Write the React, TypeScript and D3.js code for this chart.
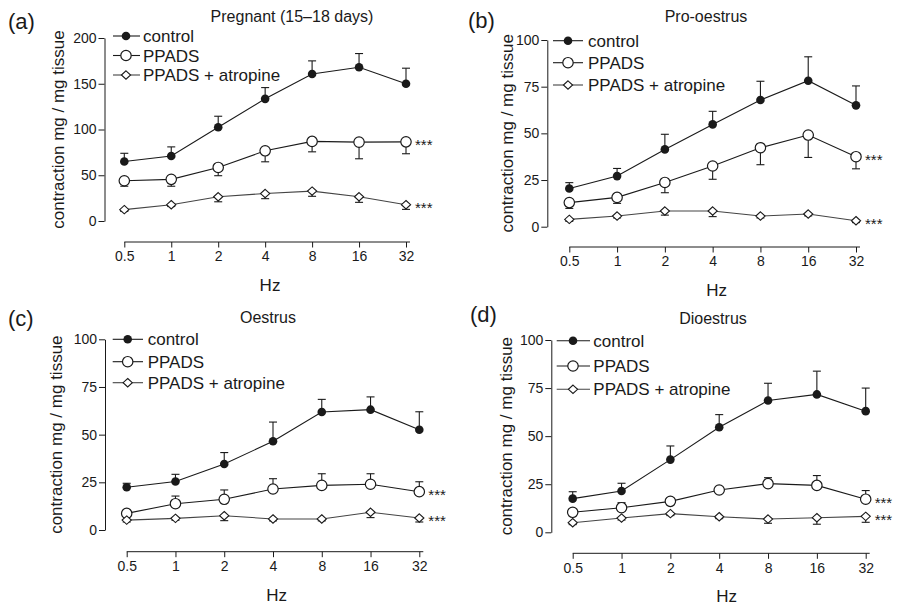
import React, { useEffect, useRef } from "react";
import * as d3 from "d3";

// stimulation frequencies (Hz) and their tick labels
const hz = [0.5, 1, 2, 4, 8, 16, 32];
const hzLabels = ["0.5", "1", "2", "4", "8", "16", "32"];
const seriesNames = ["control", "PPADS", "PPADS + atropine"];

// (a) Pregnant (15-18 days)
const pregControl = [65, 71, 102.5, 133.5, 160.7, 168, 150];
const pregControlErr = [9, 10, 12, 12.3, 14.3, 15, 17];
const pregPpads = [44, 45.5, 58.5, 76.7, 87, 86.2, 86.5];
const pregPpadsErr = [6, 7.5, 9, 12, 11.4, 18.2, 13];
const pregAtropine = [12.4, 17.8, 26.5, 30, 32.7, 26.5, 17.8];
const pregAtropineErr = [2, 2, 5.5, 5.6, 5.7, 6.1, 5.1];

// (b) Pro-oestrus
const proControl = [20.5, 27.1, 41.4, 54.8, 67.9, 78.2, 65];
const proControlErr = [3.1, 4.1, 8.1, 7, 10, 12.8, 10.4];
const proPpads = [12.9, 15.7, 23.7, 32.5, 42.3, 49.1, 37.5];
const proPpadsErr = [3.1, 3.2, 5.5, 7.1, 9.1, 12, 6.5];
const proAtropine = [3.9, 5.7, 8.4, 8.4, 5.7, 6.8, 3.2];
const proAtropineErr = [1, 1, 2.2, 3, 1, 1, 1];

// (c) Oestrus
const oesControl = [22.4, 25.4, 34.6, 46.5, 61.9, 63.1, 52.6];
const oesControlErr = [2.1, 3.8, 6, 10.1, 6.6, 6.7, 9.4];
const oesPpads = [8.7, 13.8, 16.1, 21.5, 23.4, 24, 20.1];
const oesPpadsErr = [1.5, 4, 4.9, 5.4, 6.1, 5.5, 5.2];
const oesAtropine = [5.2, 6.1, 7.5, 5.8, 5.8, 9.3, 6.3];
const oesAtropineErr = [1, 1, 2.6, 1, 1, 2.8, 2.1];

// (d) Dioestrus
const dioControl = [17.5, 21.5, 37.8, 54.6, 68.5, 71.7, 63];
const dioControlErr = [3.6, 4, 7.1, 6.6, 9, 12.1, 12];
const dioPpads = [10.4, 12.8, 16.1, 22, 25.3, 24.4, 17.2];
const dioPpadsErr = [1.5, 2.6, 1.5, 1.5, 3.1, 5.1, 4.5];
const dioAtropine = [5, 7.4, 9.7, 8.1, 6.9, 7.6, 8.3];
const dioAtropineErr = [1, 1, 1, 1, 2.2, 3.4, 3.1];

const ticks200 = [0, 50, 100, 150, 200];
const ticks100 = [0, 25, 50, 75, 100];

const FONT = "'Liberation Sans', Arial, sans-serif";
const INK = "#1a1a1a";

const panels = [
  {
    tag: "(a)", title: "Pregnant (15\u201318 days)", yMax: 200, yTicks: ticks200,
    series: [
      { v: pregControl, e: pregControlErr, dir: 1 },
      { v: pregPpads, e: pregPpadsErr, dir: -1 },
      { v: pregAtropine, e: pregAtropineErr, dir: -1 },
    ],
    yAxisX: 104.5, yTop: 38, yBot: 221, xAxisY: 242, x0: 124.3, x1: 406,
    tagX: 8, tagY: 29, titleX: 292, titleY: 22, yLabX: 58, hzX: 270,
    legY: [36, 55.5, 75], legX0: 113, legX1: 140, legM: 126, legT: 143,
  },
  {
    tag: "(b)", title: "Pro-oestrus", yMax: 100, yTicks: ticks100,
    series: [
      { v: proControl, e: proControlErr, dir: 1 },
      { v: proPpads, e: proPpadsErr, dir: -1 },
      { v: proAtropine, e: proAtropineErr, dir: -1 },
    ],
    yAxisX: 547.3, yTop: 40, yBot: 226.7, xAxisY: 247, x0: 569.3, x1: 856,
    tagX: 468, tagY: 28, titleX: 706, titleY: 22, yLabX: 507, hzX: 716.7,
    legY: [40.7, 62.7, 85], legX0: 553, legX1: 583, legM: 568, legT: 588,
  },
  {
    tag: "(c)", title: "Oestrus", yMax: 100, yTicks: ticks100,
    series: [
      { v: oesControl, e: oesControlErr, dir: 1 },
      { v: oesPpads, e: oesPpadsErr, dir: 1 },
      { v: oesAtropine, e: oesAtropineErr, dir: -1 },
    ],
    yAxisX: 105, yTop: 339.3, yBot: 530, xAxisY: 551.7, x0: 126.7, x1: 419.3,
    tagX: 8, tagY: 326, titleX: 268, titleY: 323, yLabX: 56.7, hzX: 276.7,
    legY: [339.3, 361.7, 382.7], legX0: 112.7, legX1: 143, legM: 127.7, legT: 147.7,
  },
  {
    tag: "(d)", title: "Dioestrus", yMax: 100, yTicks: ticks100,
    series: [
      { v: dioControl, e: dioControlErr, dir: 1 },
      { v: dioPpads, e: dioPpadsErr, dir: 1 },
      { v: dioAtropine, e: dioAtropineErr, dir: -1 },
    ],
    yAxisX: 551.3, yTop: 340, yBot: 532.3, xAxisY: 553.3, x0: 572.7, x1: 865.7,
    tagX: 470, tagY: 322, titleX: 713, titleY: 324, yLabX: 506, hzX: 726.7,
    legY: [340.7, 366, 389.3], legX0: 556.7, legX1: 590, legM: 573, legT: 593.3,
  },
];

function drawMarker(g, kind, cx, cy) {
  if (kind === 0) {
    g.append("circle").attr("cx", cx).attr("cy", cy).attr("r", 4.3).attr("fill", INK);
  } else if (kind === 1) {
    g.append("circle").attr("cx", cx).attr("cy", cy).attr("r", 5.2)
      .attr("fill", "#fff").attr("stroke", INK).attr("stroke-width", 1.2);
  } else {
    g.append("path")
      .attr("d", "M0,-4.2L4.6,0L0,4.2L-4.6,0Z")
      .attr("transform", `translate(${cx},${cy})`)
      .attr("fill", "#fff").attr("stroke", INK).attr("stroke-width", 1.1);
  }
}

function drawPanel(svg, p) {
  const g = svg.append("g").attr("font-family", FONT).attr("fill", INK);
  const x = d3.scaleLog().base(2).domain([0.5, 32]).range([p.x0, p.x1]);
  const y = d3.scaleLinear().domain([0, p.yMax]).range([p.yBot, p.yTop]);

  // y axis
  const ya = g.append("g")
    .attr("transform", `translate(${p.yAxisX},0)`)
    .call(d3.axisLeft(y).tickValues(p.yTicks).tickSize(6).tickPadding(2).tickSizeOuter(0));
  ya.selectAll("text").attr("font-size", 14).attr("font-family", FONT).attr("fill", INK);
  ya.selectAll("line,path").attr("stroke", INK);

  // x axis (offset below the data)
  const xa = g.append("g")
    .attr("transform", `translate(0,${p.xAxisY})`)
    .call(d3.axisBottom(x).tickValues(hz).tickFormat((d, i) => hzLabels[i]).tickSize(5.5).tickPadding(4).tickSizeOuter(0));
  xa.select(".domain").remove();
  xa.append("line").attr("x1", p.x0).attr("x2", p.x1 + 4).attr("stroke", INK);
  xa.selectAll("text").attr("font-size", 14).attr("font-family", FONT).attr("fill", INK);
  xa.selectAll("line").attr("stroke", INK);

  // labels
  g.append("text").attr("x", p.tagX).attr("y", p.tagY).attr("font-size", 22).text(p.tag);
  g.append("text").attr("x", p.titleX).attr("y", p.titleY).attr("text-anchor", "middle")
    .attr("font-size", 16).text(p.title);
  g.append("text")
    .attr("transform", `translate(${p.yLabX},${(p.yTop + p.yBot) / 2}) rotate(-90)`)
    .attr("text-anchor", "middle").attr("dominant-baseline", "central")
    .attr("font-size", 17).text("contraction mg / mg tissue");
  g.append("text").attr("x", p.hzX).attr("y", p.xAxisY + 49).attr("text-anchor", "middle")
    .attr("font-size", 17).text("Hz");

  const line = d3.line().x((d, i) => x(hz[i])).y((d) => y(d));

  p.series.forEach((s, k) => {
    g.append("path").attr("d", line(s.v)).attr("fill", "none")
      .attr("stroke", k === 2 ? "#444" : INK).attr("stroke-width", 1.1);
    s.v.forEach((v, i) => {
      const cx = x(hz[i]);
      const ye = y(v + s.dir * s.e[i]);
      g.append("line").attr("x1", cx).attr("x2", cx).attr("y1", y(v)).attr("y2", ye)
        .attr("stroke", INK).attr("stroke-width", 1.1);
      g.append("line").attr("x1", cx - 4).attr("x2", cx + 4).attr("y1", ye).attr("y2", ye)
        .attr("stroke", INK).attr("stroke-width", 1.1);
    });
  });
  p.series.forEach((s, k) => {
    s.v.forEach((v, i) => drawMarker(g, k, x(hz[i]), y(v)));
  });

  // significance marks next to the last point of the treated series
  [1, 2].forEach((k) => {
    const last = p.series[k].v[hz.length - 1];
    g.append("text").attr("x", x(32) + 9).attr("y", y(last) + 8.5)
      .attr("font-size", 15).text("***");
  });

  // legend
  seriesNames.forEach((name, k) => {
    const ly = p.legY[k];
    g.append("line").attr("x1", p.legX0).attr("x2", p.legX1).attr("y1", ly).attr("y2", ly)
      .attr("stroke", k === 2 ? "#444" : INK).attr("stroke-width", 1.1);
    drawMarker(g, k, p.legM, ly);
    g.append("text").attr("x", p.legT).attr("y", ly).attr("dy", "0.36em")
      .attr("font-size", 17).text(name);
  });
}

export default function App() {
  const ref = useRef(null);

  useEffect(() => {
    const svg = d3.select(ref.current);
    svg.selectAll("*").remove();
    panels.forEach((p) => drawPanel(svg, p));
  }, []);

  return (
    <div style={{ position: "absolute", left: 0, top: 0 }}>
      <svg width={897} height={606} ref={ref} style={{ display: "block", background: "#fff" }} />
    </div>
  );
}
